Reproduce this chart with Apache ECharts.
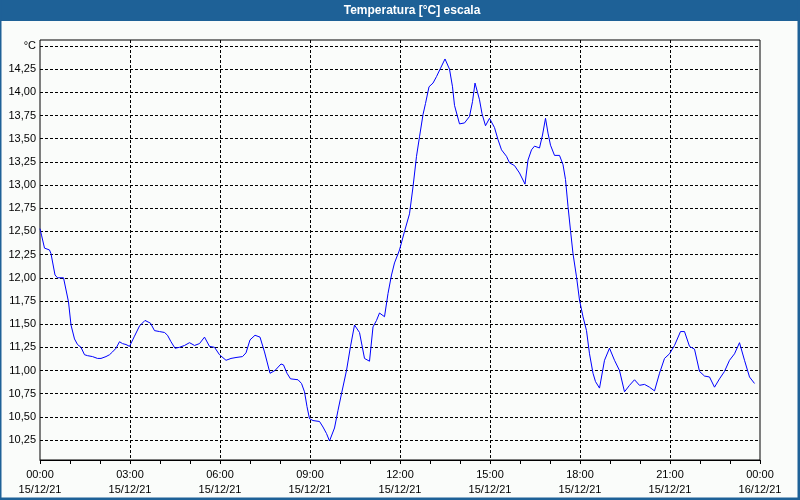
<!DOCTYPE html>
<html><head><meta charset="utf-8">
<script src="https://cdn.jsdelivr.net/npm/echarts@6/dist/echarts.min.js"></script>
<style>html,body{margin:0;padding:0;background:#fafcfa}#c{width:800px;height:500px}</style>
</head><body><div id="c"></div>
<script>
var chartTitle = 'Temperatura [°C] escala';
var unitLabel = '°C';
// minutes since 00:00 15/12/21
var times = [0,3,9,19,22,30,35,47,50,57,
 62,69,75,82,89,95,105,115,122,132,
 139,145,152,159,165,172,179,189,199,210,
 221,229,239,249,255,262,270,279,289,299,
 309,319,329,339,349,359,372,382,392,405,
 412,420,430,440,449,460,470,482,487,494,
 501,516,523,529,534,539,546,559,566,573,
 579,589,596,603,613,621,629,639,649,659,
 666,673,679,689,696,703,709,719,729,739,
 746,753,759,766,771,778,786,793,801,810,
 819,825,829,839,849,859,865,870,879,884,
 891,899,909,916,923,933,939,949,959,970,
 976,983,989,999,1005,1011,1016,1021,1029,1039,
 1046,1051,1056,1061,1066,1073,1079,1086,1093,1099,
 1106,1111,1119,1129,1139,1149,1159,1169,1179,1189,
 1199,1209,1219,1229,1239,1249,1259,1269,1281,1289,
 1299,1309,1319,1329,1339,1349,1359,1369,1379,1389,
 1399,1409,1419,1429];
var temps = [12.53,12.46,12.32,12.30,12.26,12.03,12.00,12.00,11.98,11.74,
 11.49,11.34,11.28,11.25,11.17,11.16,11.15,11.13,11.13,11.15,
 11.17,11.20,11.24,11.31,11.29,11.28,11.26,11.37,11.48,11.54,
 11.51,11.43,11.42,11.41,11.38,11.31,11.24,11.25,11.27,11.30,
 11.27,11.29,11.36,11.26,11.25,11.17,11.11,11.13,11.14,11.15,
 11.19,11.33,11.38,11.36,11.20,10.97,11.00,11.07,11.06,10.97,
 10.91,10.90,10.86,10.77,10.61,10.48,10.46,10.45,10.39,10.32,
 10.24,10.38,10.57,10.75,11.00,11.26,11.49,11.41,11.13,11.10,
 11.47,11.54,11.62,11.58,11.83,12.03,12.16,12.30,12.50,12.69,
 12.98,13.31,13.52,13.76,13.88,14.06,14.10,14.17,14.26,14.36,
 14.25,14.06,13.86,13.66,13.67,13.74,13.90,14.10,13.92,13.77,
 13.64,13.72,13.62,13.49,13.38,13.31,13.24,13.21,13.13,13.01,
 13.27,13.38,13.42,13.40,13.54,13.72,13.56,13.43,13.32,13.32,
 13.22,13.06,12.77,12.51,12.26,12.01,11.76,11.58,11.43,11.18,
 10.97,10.88,10.81,11.11,11.24,11.11,11.00,10.77,10.84,10.90,
 10.84,10.85,10.82,10.78,10.97,11.13,11.18,11.27,11.42,11.42,
 11.26,11.23,10.99,10.94,10.93,10.82,10.91,10.99,11.11,11.18,
 11.30,11.11,10.93,10.86];
var xLabelTimes = ['00:00','03:00','06:00','09:00','12:00','15:00','18:00','21:00','00:00'];
var xLabelDates = ['15/12/21','15/12/21','15/12/21','15/12/21','15/12/21','15/12/21','15/12/21','15/12/21','16/12/21'];

var FONT = "'Liberation Sans', Tahoma, sans-serif";
var data = times.map(function (t, i) { return [t, temps[i]]; });
var chart = echarts.init(document.getElementById('c'), null, {renderer: 'canvas'});
var dashed = {show: true, lineStyle: {color: '#000', width: 1, type: [3, 2]}};
chart.setOption({
  animation: false,
  backgroundColor: '#fafcfa',
  grid: [
    {left: 40, top: 40, width: 720, height: 420, show: true, borderColor: '#000', borderWidth: 1, backgroundColor: 'transparent'},
    {left: 40, top: 46, width: 720, height: 417.2, show: false}
  ],
  xAxis: [
    {gridIndex: 0, type: 'value', min: 0, max: 1440, interval: 60,
     axisLine: {show: true, onZero: false, lineStyle: {color: '#000'}},
     axisTick: {show: true, length: 4, lineStyle: {color: '#000'}},
     splitLine: {show: false},
     axisLabel: {show: true, margin: 7, color: '#000', fontFamily: FONT, fontSize: 11, lineHeight: 15,
       showMinLabel: true, showMaxLabel: true, hideOverlap: false,
       formatter: function (v) { if (v % 180 !== 0) return ''; var k = v / 180; return xLabelTimes[k] + '\n' + xLabelDates[k]; }}},
    {gridIndex: 0, type: 'value', min: 0, max: 1440, interval: 180, position: 'top',
     axisLine: {show: false}, axisTick: {show: false}, axisLabel: {show: false},
     splitLine: Object.assign({showMinLine: false, showMaxLine: false}, dashed)},
    {gridIndex: 1, type: 'value', min: 0, max: 1440, show: false}
  ],
  yAxis: [
    {gridIndex: 0, type: 'value', min: 0, max: 1, show: false, splitLine: {show: false}},
    {gridIndex: 1, type: 'value', min: 10, max: 14.5, interval: 0.25,
     axisLine: {show: false}, axisTick: {show: false},
     splitLine: Object.assign({showMinLine: false, showMaxLine: true}, dashed),
     axisLabel: {margin: 4, color: '#000', fontFamily: FONT, fontSize: 11, showMinLabel: false,
       formatter: function (v) { if (Math.abs(v - 14.5) < 1e-6) return unitLabel; if (Math.abs(v - 10) < 1e-6) return ''; return v.toFixed(2).replace('.', ','); }}}
  ],
  series: [{
    type: 'line', xAxisIndex: 2, yAxisIndex: 1, data: data, showSymbol: false, symbol: 'none',
    lineStyle: {color: '#0000ff', width: 1}, clip: false, silent: true
  }],
  graphic: [
    {type: 'rect', shape: {x: 0, y: 0, width: 800, height: 21}, style: {fill: '#1e6197'}, z: 10},
    {type: 'text', x: 412, y: 11, style: {text: chartTitle, fill: '#fff', font: "bold 12px 'Liberation Sans', Tahoma, sans-serif", textAlign: 'center', textVerticalAlign: 'middle'}, z: 11},
    {type: 'rect', shape: {x: 0, y: 0, width: 1.5, height: 500}, style: {fill: '#1e6197'}, z: 10},
    {type: 'rect', shape: {x: 797.5, y: 0, width: 2.5, height: 500}, style: {fill: '#1e6197'}, z: 10},
    {type: 'rect', shape: {x: 0, y: 497.5, width: 800, height: 2.5}, style: {fill: '#1e6197'}, z: 10}
  ]
});
</script></body></html>
